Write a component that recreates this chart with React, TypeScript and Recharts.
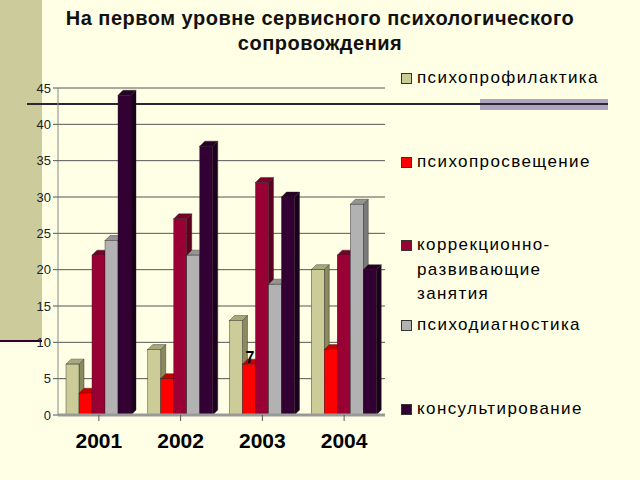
import React from 'react';
import { BarChart, Bar, XAxis, YAxis, CartesianGrid, LabelList } from 'recharts';

const years = ['2001', '2002', '2003', '2004'];
const psychoprophylaxis = [7, 9, 13, 20];
const psychoeducation = [3, 5, 7, 9];
const correctional = [22, 27, 32, 22];
const psychodiagnostics = [24, 22, 18, 29];
const consulting = [44, 37, 30, 20];
const yTicks = [0, 5, 10, 15, 20, 25, 30, 35, 40, 45];

const seriesNames = [
  'психопрофилактика',
  'психопросвещение',
  'коррекционно-развивающие занятия',
  'психодиагностика',
  'консультирование',
];
const legendLines = [
  ['психопрофилактика'],
  ['психопросвещение'],
  ['коррекционно-', 'развивающие', 'занятия'],
  ['психодиагностика'],
  ['консультирование'],
];
const legendY = [78, 162, 245, 325, 409];
const seriesKeys = ['s0', 's1', 's2', 's3', 's4'];
const seriesValues = [psychoprophylaxis, psychoeducation, correctional, psychodiagnostics, consulting];
const frontColors = ['#CCCC99', '#FF0000', '#990033', '#B2B2B2', '#330033'];
const sideColors = ['#8A8A5E', '#A00000', '#5E001F', '#7A7A7A', '#1C001C'];
const topColors = ['#A8A87A', '#C80000', '#78002A', '#959595', '#260026'];

const data = years.map((y, i) => {
  const row: any = { year: y };
  seriesKeys.forEach((k, s) => {
    row[k] = seriesValues[s][i];
  });
  return row;
});

const D = 5;
const makeShape = (s: number) => (props: any) => {
  const { x, y, width, height } = props;
  if (width == null || height == null) return null;
  const w = width, h = height;
  return (
    <g>
      <polygon
        points={`${x + w},${y} ${x + w + D},${y - D} ${x + w + D},${y + h - D} ${x + w},${y + h}`}
        fill={sideColors[s]}
        stroke="#222"
        strokeWidth={0.4}
      />
      <polygon
        points={`${x},${y} ${x + D},${y - D} ${x + w + D},${y - D} ${x + w},${y}`}
        fill={topColors[s]}
        stroke="#222"
        strokeWidth={0.4}
      />
      <rect x={x} y={y} width={w} height={h} fill={frontColors[s]} stroke="#222" strokeWidth={0.4} />
    </g>
  );
};

const FONT = '"Liberation Sans", Arial, sans-serif';

const SevenLabel = (props: any) => {
  const { x, y, width, index, value } = props;
  if (index !== 2) return null;
  return (
    <text x={x + width / 2 + 1} y={y - 1} textAnchor="middle" fontFamily={FONT} fontSize={16} fontWeight="bold" fill="#000">
      {value}
    </text>
  );
};

export default function App() {
  return (
    <div style={{ position: 'absolute', left: 0, top: 0, width: 640, height: 480, background: '#FFFFE6', overflow: 'hidden', fontFamily: FONT }}>
      <div style={{ position: 'absolute', left: 0, top: 0, width: 42, height: 341, background: '#CBCB9C' }} />
      <div style={{ position: 'absolute', left: 0, top: 340, width: 42, height: 2, background: '#330033' }} />
      <div style={{ position: 'absolute', left: 480, top: 99, width: 128, height: 11, background: '#ABA6BE' }} />
      <div style={{ position: 'absolute', left: 27, top: 103, width: 581, height: 2, background: '#2E2438' }} />
      <div style={{ position: 'absolute', left: 0, top: 6, width: 640, textAlign: 'center', fontSize: 20, fontWeight: 'bold', lineHeight: '25px', letterSpacing: 0.5, color: '#111' }}>
        На первом уровне сервисного психологического
        <br />
        сопровождения
      </div>
      <div style={{ position: 'absolute', left: 0, top: 0 }}>
        <BarChart width={640} height={480} data={data} margin={{ top: 88, right: 255, left: 0, bottom: 0 }} barCategoryGap={8} barGap={0}>
          <CartesianGrid vertical={false} stroke="#555" strokeWidth={1} />
          <XAxis
            dataKey="year"
            height={65}
            axisLine={{ stroke: '#999', strokeWidth: 3 }}
            tickLine={{ stroke: '#555' }}
            tick={{ fontFamily: FONT, fontSize: 21, fontWeight: 'bold', fill: '#000' }}
            tickMargin={12}
          />
          <YAxis
            width={58}
            domain={[0, 45]}
            ticks={yTicks}
            interval={0}
            axisLine={{ stroke: '#888' }}
            tickLine={{ stroke: '#555' }}
            tickSize={5}
            tick={{ fontFamily: FONT, fontSize: 13, fill: '#222' }}
          />
          {seriesKeys.map((k, s) => (
            <Bar key={k} dataKey={k} name={seriesNames[s]} fill={frontColors[s]} shape={makeShape(s)} isAnimationActive={false}>
              {s === 1 ? <LabelList dataKey={k} content={SevenLabel} /> : null}
            </Bar>
          ))}
        </BarChart>
      </div>
      {legendLines.map((lines, i) => (
        <div key={i} style={{ position: 'absolute', left: 401, top: legendY[i] - 12 }}>
          <div style={{ position: 'absolute', left: 0, top: 7, width: 9, height: 9, background: frontColors[i], border: '1px solid #333' }} />
          <div style={{ position: 'absolute', left: 16, top: 0, fontSize: 17, lineHeight: '24.5px', letterSpacing: 1.4, color: '#000', whiteSpace: 'nowrap' }}>
            {lines.map((l, j) => (
              <div key={j}>{l}</div>
            ))}
          </div>
        </div>
      ))}
    </div>
  );
}
